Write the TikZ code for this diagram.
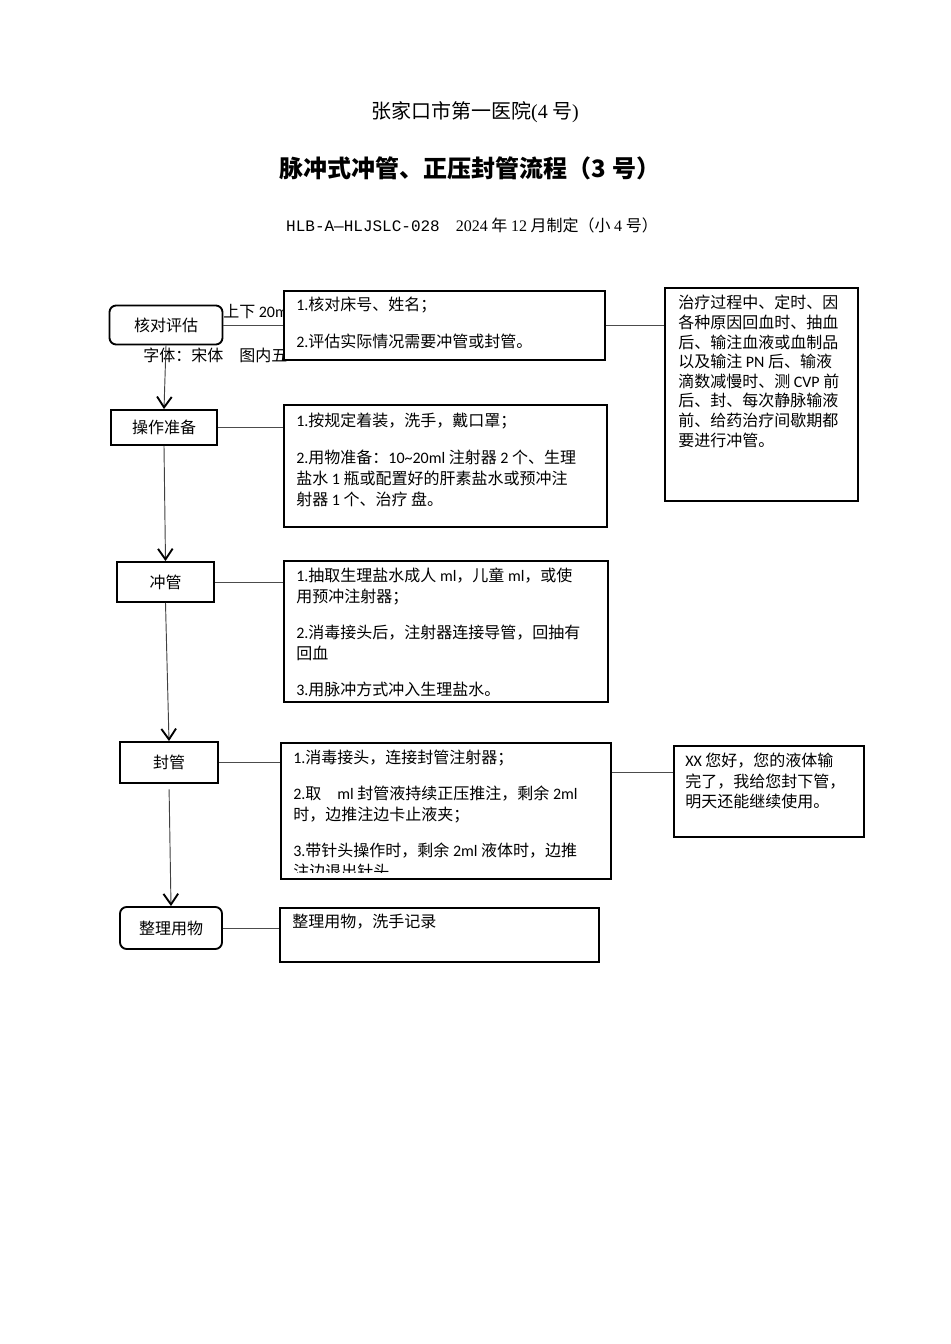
\documentclass[tikz,border=0pt]{standalone}
\usepackage{fontspec}
\setmainfont{Noto Sans CJK SC}
\newfontfamily\cjk{Noto Sans CJK SC}
\newfontfamily\lsans{Carlito}
\newfontfamily\lserif{Liberation Serif}
\newfontfamily\lmono{Liberation Mono}
\newcommand{\la}[1]{{\lsans #1}}
\usetikzlibrary{arrows.meta}

\tikzset{
  stepbox/.style={draw, line width=1.4pt, fill=white, inner sep=0pt, font=\cjk\fontsize{12}{14}\selectfont},
  roundbox/.style={stepbox, rounded corners=5pt},
  infobox/.style={draw, line width=1.2pt, fill=white, inner sep=0pt, anchor=north west},
  infotext/.style={anchor=north west, inner sep=0pt, align=left, font=\cjk\fontsize{12}{15.75}\selectfont},
  flowarrow/.style={line width=0.7pt, black!75, -{Straight Barb[length=8pt,width=11pt,line width=1.4pt,color=black]}},
  linkline/.style={line width=0.6pt, black!70}
}

\begin{document}
\begin{tikzpicture}[x=0.75pt,y=-0.75pt]
  \useasboundingbox (0,0) rectangle (950,1344);

  % Titel
  \node (head) at (475,112) {\cjk\fontsize{15}{18}\selectfont 张家口市第一医院{\lserif (4} 号{\lserif )}};
  \node (title) at (470,168) {\cjk\bfseries\fontsize{18}{22}\selectfont 脉冲式冲管、正压封管流程（3 号）};
  \node (code) at (472,225) {\cjk\fontsize{12}{14}\selectfont {\lmono HLB-A—HLJSLC-028}\quad {\lserif 2024} 年 {\lserif 12} 月制定（小 {\lserif 4} 号）};

  % Hinweise hinter den Kaesten
  \node[anchor=west, inner sep=0pt, font=\cjk\fontsize{12}{14}\selectfont] (margin) at (223,312) {上下 \la{20m}};
  \node[anchor=west, inner sep=0pt, font=\cjk\fontsize{12}{14}\selectfont] (fontnote) at (143,355) {字体：宋体\quad 图内五};

  % Schritte links
  \node[roundbox, minimum width=84.75pt, minimum height=29.25pt] (check) at (166,325) {核对评估};
  \node[stepbox, minimum width=79.5pt, minimum height=26.25pt] (prep) at (164,427.5) {操作准备};
  \node[stepbox, minimum width=72.75pt, minimum height=30pt] (flush) at (165.5,582) {冲管};
  \node[stepbox, minimum width=73.5pt, minimum height=30.75pt] (lock) at (169,762.5) {封管};
  \node[roundbox, minimum width=76.5pt, minimum height=31.5pt] (tidy) at (171,928) {整理用物};

  % Kaesten rechts
  \node[infobox, minimum width=240.75pt, minimum height=51.75pt] (boxA) at (283,290) {};
  \node[infobox, minimum width=242.25pt, minimum height=91.5pt] (boxB) at (283,404) {};
  \node[infobox, minimum width=243pt, minimum height=105.75pt] (boxC) at (283,560) {};
  \node[infobox, minimum width=247.5pt, minimum height=102pt] (boxD) at (280,742) {};
  \node[infobox, minimum width=239.25pt, minimum height=40.5pt] (boxE) at (279,907) {};
  \node[infobox, minimum width=144.75pt, minimum height=159.75pt] (boxF) at (664,287) {};
  \node[infobox, minimum width=142.5pt, minimum height=68.25pt] (boxG) at (673,745) {};

  \node[infotext] (textA) at (296,297) {\la{1.}核对床号、姓名；\\[12pt]\la{2.}评估实际情况需要冲管或封管。};
  \node[infotext] (textB) at (296,413) {\la{1.}按规定着装，洗手，戴口罩；\\[12pt]\la{2.}用物准备：\la{10\textasciitilde 20ml} 注射器 \la{2} 个、生理\\盐水 \la{1} 瓶或配置好的肝素盐水或预冲注\\射器 \la{1} 个、治疗 盘。};
  \node[infotext] (textC) at (296,568) {\la{1.}抽取生理盐水成人 \la{ml}，儿童 \la{ml}，或使\\用预冲注射器；\\[11pt]\la{2.}消毒接头后，注射器连接导管，回抽有\\回血\\[11pt]\la{3.}用脉冲方式冲入生理盐水。};
  \begin{scope}
    \clip (boxD.north west) rectangle ([yshift=5.5pt]boxD.south east);
    \node[infotext] (textD) at (293,750) {\la{1.}消毒接头，连接封管注射器；\\[11pt]\la{2.}取\quad\la{ml} 封管液持续正压推注，剩余 \la{2ml}\\时，边推注边卡止液夹；\\[11pt]\la{3.}带针头操作时，剩余 \la{2ml} 液体时，边推\\注边退出针头。};
  \end{scope}
  \node[infotext] (textE) at (292,914) {整理用物，洗手记录};
  \node[infotext, font=\cjk\fontsize{12}{14.7}\selectfont] (textF) at (678,295) {治疗过程中、定时、因\\各种原因回血时、抽血\\后、输注血液或血制品\\以及输注 \la{PN} 后、输液\\滴数减慢时、测 \la{CVP} 前\\后、封、每次静脉输液\\前、给药治疗间歇期都\\要进行冲管。};
  \node[infotext, font=\cjk\fontsize{12}{15.4}\selectfont] (textG) at (685,753) {\la{XX} 您好，您的液体输\\完了，我给您封下管，\\明天还能继续使用。};

  % Pfeile
  \draw[flowarrow] (check.south) -- (prep.north);
  \draw[flowarrow] (prep.south) -- (flush.north);
  \draw[flowarrow] (flush.south) -- (lock.north);
  \draw[flowarrow, shorten <=4pt] (lock.south) -- (tidy.north);

  % Verbindungen
  \draw[linkline] (check.east) -- (check.east -| boxA.west);
  \draw[linkline] (boxA.east) -- (boxA.east -| boxF.west);
  \draw[linkline] (prep.east) -- (prep.east -| boxB.west);
  \draw[linkline] (flush.east) -- (flush.east -| boxC.west);
  \draw[linkline] (lock.east) -- (lock.east -| boxD.west);
  \coordinate (dlink) at ([yshift=28.5pt]boxD.east);
  \draw[linkline] (dlink) -- (dlink -| boxG.west);
  \draw[linkline] (tidy.east) -- (tidy.east -| boxE.west);
\end{tikzpicture}
\end{document}
